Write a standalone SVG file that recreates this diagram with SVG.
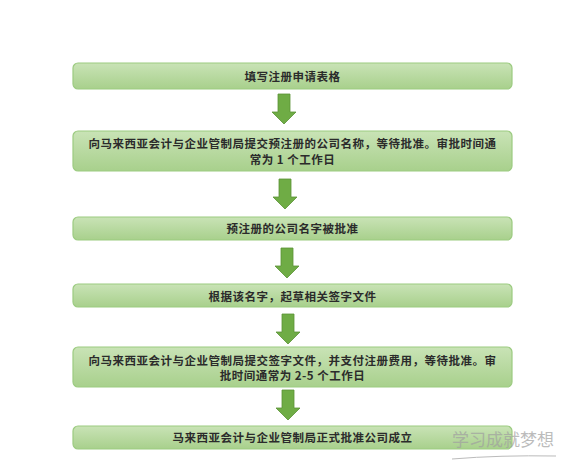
<svg xmlns="http://www.w3.org/2000/svg" width="564" height="467" viewBox="0 0 564 467">
<defs>
<linearGradient id="g" x1="0" y1="0" x2="0" y2="1">
<stop offset="0" stop-color="#c9e3b6"/>
<stop offset="1" stop-color="#a8d08c"/>
</linearGradient>
<style>
.box{fill:url(#g);stroke:#9ccb80;stroke-width:1.2}
.t{font-family:"Noto Sans CJK SC","Noto Sans",sans-serif;font-size:11.5px;letter-spacing:0.5px;font-weight:bold;fill:#2b2b2b;text-anchor:middle}
.arr{fill:#6fac45;stroke:#5a9236;stroke-width:0.8}
.wm{font-family:"Noto Sans CJK SC",sans-serif;font-size:17px;fill:#a0a0a0;opacity:0.7}
</style>
</defs>
<rect width="564" height="467" fill="#ffffff"/>
<g id="connectors">
<path class="arr" d="M278,94 H290 V112 H296 L284,124 L272,112 H278 Z"/>
<path class="arr" d="M279,179 H291 V197 H297 L285,209 L273,197 H279 Z"/>
<path class="arr" d="M281,248 H293 V266 H299 L287,278 L275,266 H281 Z"/>
<path class="arr" d="M282,314 H294 V332 H300 L288,344 L276,332 H282 Z"/>
<path class="arr" d="M282,390 H294 V408 H300 L288,420 L276,408 H282 Z"/>
</g>
<g id="n1"><rect class="box" x="73" y="63" width="439" height="26" rx="5"/><text class="t" x="292.5" y="80.5">填写注册申请表格</text></g>
<g id="n2"><rect class="box" x="73" y="131" width="439" height="40" rx="5"/><text class="t" x="292.5" y="148" letter-spacing="0.8">向马来西亚会计与企业管制局提交预注册的公司名称，等待批准。审批时间通</text><text class="t" x="292.5" y="164">常为 1 个工作日</text></g>
<g id="n3"><rect class="box" x="73" y="217" width="439" height="23" rx="5"/><text class="t" x="292.5" y="233">预注册的公司名字被批准</text></g>
<g id="n4"><rect class="box" x="73" y="284" width="439" height="23" rx="5"/><text class="t" x="292.5" y="300.5">根据该名字，起草相关签字文件</text></g>
<g id="n5"><rect class="box" x="73" y="347" width="439" height="40" rx="5"/><text class="t" x="292.5" y="364.5">向马来西亚会计与企业管制局提交签字文件，并支付注册费用，等待批准。审</text><text class="t" x="292.5" y="380">批时间通常为 2-5 个工作日</text></g>
<g id="n6"><rect class="box" x="73" y="426" width="439" height="23" rx="5"/><text class="t" x="292.5" y="442">马来西亚会计与企业管制局正式批准公司成立</text></g>
<g id="watermark">
<text class="wm" x="452" y="446">学习成就梦想</text>
<path d="M452,459 Q500,455 556,456" fill="none" stroke="#bbbbbb" stroke-width="1"/>
</g>
</svg>
